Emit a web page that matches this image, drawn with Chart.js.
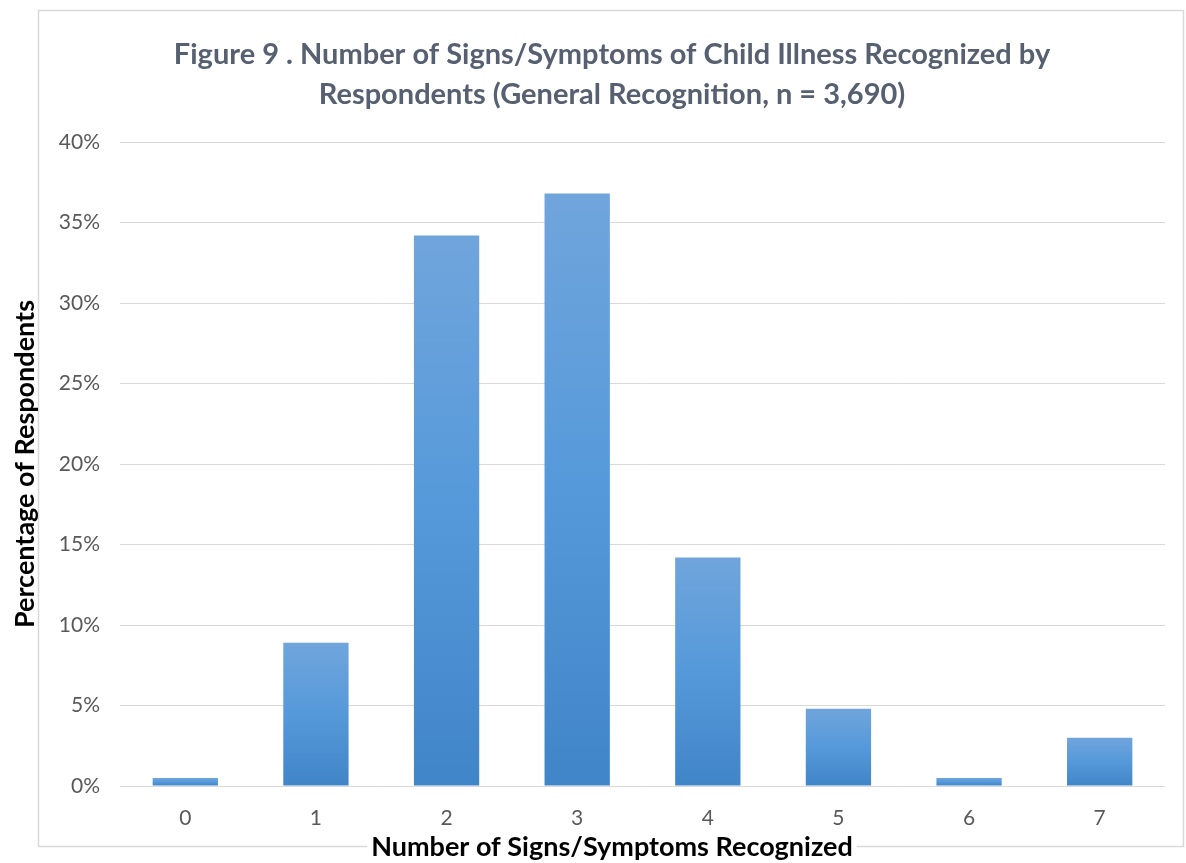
<!DOCTYPE html>
<html>
<head>
<meta charset="utf-8">
<script src="https://cdn.jsdelivr.net/npm/chart.js@4.4.0/dist/chart.umd.min.js"></script>
<style>
  html, body { margin: 0; padding: 0; background: #ffffff; }
  #wrap { width: 1186px; height: 863px; position: relative; }
</style>
</head>
<body>
<div id="wrap"><canvas id="c" width="1186" height="863"></canvas></div>
<script>
const categories = ['0', '1', '2', '3', '4', '5', '6', '7'];
const percentages = [0.5, 8.9, 34.2, 36.8, 14.2, 4.8, 0.5, 3.0];
const yTickValues = [0, 5, 10, 15, 20, 25, 30, 35, 40];
const titleLines = ['Figure 9 . Number of Signs/Symptoms of Child Illness Recognized by', 'Respondents (General Recognition, n = 3,690)'];
const xAxisTitle = 'Number of Signs/Symptoms Recognized';
const yAxisTitle = 'Percentage of Respondents';

const FONT = 'Lato, "Open Sans", sans-serif';
const axisTitleFont = { family: FONT, size: 27, weight: 'bold', lineHeight: 1.2 };
const PAD_LEFT = 38;

const frame = {
  id: 'frame',
  beforeDraw(chart) {
    const ctx = chart.ctx;
    ctx.save();
    ctx.fillStyle = '#ffffff';
    ctx.fillRect(0, 0, chart.width, chart.height);
    ctx.strokeStyle = '#d9d9d9';
    ctx.lineWidth = 1.5;
    const l = 38.5, t = 10.5, r = 1183.5, b = 846.5;
    ctx.font = 'bold ' + axisTitleFont.size + 'px ' + FONT;
    const w = ctx.measureText(xAxisTitle).width;
    const cx = (PAD_LEFT + chart.width) / 2;
    ctx.beginPath();
    ctx.moveTo(l, b); ctx.lineTo(l, t); ctx.lineTo(r, t); ctx.lineTo(r, b);
    ctx.lineTo(cx + w / 2 + 4, b);
    ctx.moveTo(cx - w / 2 - 4, b); ctx.lineTo(l, b);
    ctx.stroke();
    ctx.restore();
  }
};

function barGradient(context) {
  const chart = context.chart;
  const area = chart.chartArea;
  if (!area) return '#5b9bd5';
  const v = context.raw;
  const yTop = chart.scales.y.getPixelForValue(v);
  const yBot = chart.scales.y.getPixelForValue(0);
  const g = chart.ctx.createLinearGradient(0, yTop, 0, Math.max(yBot, yTop + 1));
  g.addColorStop(0, '#70a5dc');
  g.addColorStop(0.5, '#5599da');
  g.addColorStop(1, '#4185c9');
  return g;
}

new Chart(document.getElementById('c'), {
  type: 'bar',
  data: {
    labels: categories,
    datasets: [{
      data: percentages,
      backgroundColor: barGradient,
      borderWidth: 0,
      barPercentage: 0.5,
      categoryPercentage: 1.0
    }]
  },
  options: {
    responsive: false,
    animation: false,
    layout: { padding: { top: 0, right: 0, bottom: 0, left: PAD_LEFT } },
    plugins: {
      legend: { display: false },
      tooltip: { enabled: false },
      title: {
        display: true,
        text: titleLines,
        color: '#566070',
        font: { family: FONT, size: 29, weight: 'bold', lineHeight: 1.38 },
        padding: { top: 35, bottom: 27 }
      },
      subtitle: {
        display: true,
        position: 'bottom',
        text: xAxisTitle,
        color: '#000000',
        font: axisTitleFont,
        padding: { top: 0, bottom: 0 }
      }
    },
    scales: {
      x: {
        grid: { display: false },
        border: { display: false },
        ticks: { color: '#595959', font: { family: FONT, size: 21 }, padding: 12 },
        afterFit(scale) { scale.height = 44.6; }
      },
      y: {
        min: 0,
        max: 40,
        afterBuildTicks(scale) { scale.ticks = yTickValues.map(v => ({ value: v })); },
        grid: { color: '#d9d9d9', lineWidth: 1, drawTicks: false },
        border: { display: false },
        ticks: {
          color: '#595959',
          font: { family: FONT, size: 21 },
          padding: 20,
          callback: (v) => v + '%'
        },
        title: {
          display: true,
          text: yAxisTitle,
          color: '#000000',
          font: axisTitleFont,
          padding: { top: -29, bottom: 0 }
        },
        afterFit(scale) { scale.width = 82; }
      },
      yRight: {
        position: 'right',
        display: true,
        grid: { display: false },
        border: { display: false },
        ticks: { display: false },
        afterFit(scale) { scale.width = 21; }
      }
    }
  },
  plugins: [frame]
});
</script>
</body>
</html>
